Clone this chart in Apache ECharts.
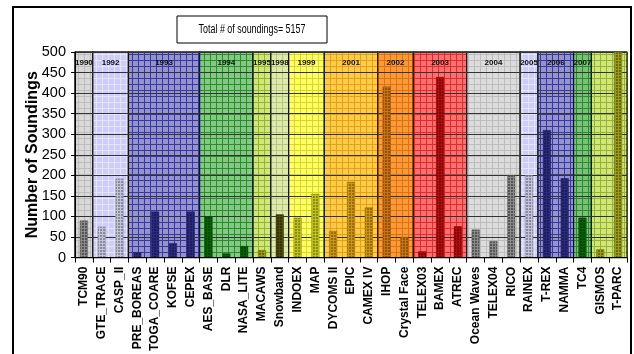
<!DOCTYPE html>
<html>
<head>
<meta charset="utf-8">
<script src="https://cdn.jsdelivr.net/npm/echarts@6/dist/echarts.min.js"></script>
<style>
  html, body { margin: 0; padding: 0; background: #fff; }
  #chart { width: 634px; height: 354px; }
</style>
</head>
<body>
<div id="chart"></div>
<script>
// Field campaigns and the number of soundings collected in each
const campaigns = ['TCM90', 'GTE_TRACE', 'CASP_II', 'PRE_BOREAS', 'TOGA_COARE', 'KOFSE', 'CEPEX',
  'AES_BASE', 'DLR', 'NASA_LITE', 'MACAWS', 'Snowband', 'INDOEX', 'MAP', 'DYCOMS II', 'EPIC',
  'CAMEX IV', 'IHOP', 'Crystal Face', 'TELEX03', 'BAMEX', 'ATREC', 'Ocean Waves', 'TELEX04',
  'RICO', 'RAINEX', 'T-REX', 'NAMMA', 'TC4', 'GISMOS', 'T-PARC'];
const soundings = [90, 75, 192, 13, 112, 35, 112, 100, 10, 28, 18, 105, 97, 155, 65, 184,
  122, 416, 50, 15, 439, 76, 68, 40, 200, 200, 310, 193, 97, 20, 1520];

// Year groups: how many consecutive campaigns fall in each year, and the band label
const yearCounts = [1, 2, 4, 3, 1, 1, 2, 3, 2, 3, 3, 1, 2, 1, 2];
const yearLabels = ['1990', '1992', '1993', '1994', '1995', '1998', '1999', '2001', '2002',
  '2003', '2004', '2005', '2006', '2007', ''];

// Band background [base, mesh line] and bar [cell, separator] colours per year group
const bandColors = [
  ['#d9d9d9', '#bdbdbd'], ['#ccccff', '#e4e4ff'], ['#9494cc', '#3a3a96'], ['#86c686', '#2e8a2e'],
  ['#cce977', '#9ab03a'], ['#dde9ae', '#b7c77a'], ['#ffff66', '#d8d430'], ['#ffcc44', '#e0a020'],
  ['#ff9933', '#d87418'], ['#ff7070', '#d83030'], ['#dcdcdc', '#bdbdbd'], ['#ccccff', '#e4e4ff'],
  ['#9494cc', '#3a3a96'], ['#7cbf7c', '#2e8a2e'], ['#cce977', '#9ab03a']];
const barColors = [
  ['#555555', '#8a8a8a'], ['#8a8a9e', '#c4c4d8'], ['#1c1c60', '#2a2a78'], ['#004a00', '#0a600a'],
  ['#6b6b00', '#9a9a20'], ['#333300', '#4c4c10'], ['#8f8f00', '#bdbd30'], ['#9c6c00', '#c89420'],
  ['#9a5000', '#c0741c'], ['#8a0000', '#a81010'], ['#555555', '#8a8a8a'], ['#8a8a9e', '#c4c4d8'],
  ['#1c1c60', '#2a2a78'], ['#004a00', '#0a600a'], ['#6b6b00', '#9a9a20']];

const totalText = 'Total # of soundings= 5157';

function meshPattern(base, line, size) {
  const c = document.createElement('canvas');
  c.width = size; c.height = size;
  const g = c.getContext('2d');
  g.fillStyle = base; g.fillRect(0, 0, size, size);
  g.fillStyle = line;
  g.fillRect(0, 0, size, 1);
  g.fillRect(0, 0, 1, size);
  return { image: c, repeat: 'repeat' };
}

// Map each campaign to its year group and build the band list
const groupOf = [];
const bands = [];
let start = 0;
yearCounts.forEach((n, gi) => {
  for (let k = 0; k < n; k++) groupOf.push(gi);
  const c = bandColors[gi];
  bands.push([
    { xAxis: campaigns[start], name: yearLabels[gi],
      itemStyle: { color: meshPattern(c[0], c[1], 6) } },
    { xAxis: campaigns[start + n - 1] }
  ]);
  start += n;
});

const barData = soundings.map((v, i) => {
  const c = barColors[groupOf[i]];
  return {
    value: v,
    itemStyle: { color: meshPattern(c[0], c[1], 3), borderColor: c[0], borderWidth: 0.5 }
  };
});

const sans = "'Liberation Sans', Arial, sans-serif";

const chart = echarts.init(document.getElementById('chart'));
chart.setOption({
  animation: false,
  backgroundColor: '#ffffff',
  grid: { left: 75, right: 7, top: 52, bottom: 95, show: true, borderColor: '#222', borderWidth: 1 },
  graphic: [
    { type: 'rect', shape: { x: 13, y: 7, width: 618, height: 400 },
      style: { fill: 'none', stroke: '#000', lineWidth: 2 }, z: 100 },
    { type: 'rect', shape: { x: 177, y: 16, width: 150, height: 27 },
      style: { fill: '#fff', stroke: '#000', lineWidth: 1 }, z: 100 },
    { type: 'text', x: 252, y: 29.5, z: 101, scaleX: 0.66, originX: 0, originY: 0,
      style: { text: totalText, font: '13.5px ' + sans, fill: '#000',
        align: 'center', verticalAlign: 'middle' } }
  ],
  xAxis: {
    type: 'category',
    data: campaigns,
    z: 3,
    axisLine: { lineStyle: { color: '#000', width: 1 } },
    axisTick: { show: true, length: 5, lineStyle: { color: '#000' } },
    axisLabel: { interval: 0, rotate: 90, margin: 9, color: '#000',
      fontFamily: sans, fontWeight: 'bold', fontSize: 12 },
    splitLine: { show: false }
  },
  yAxis: {
    type: 'value',
    min: 0, max: 500, interval: 50,
    z: 1.5,
    name: 'Number of Soundings',
    nameLocation: 'middle',
    nameGap: 34,
    nameMoveOverlap: false,
    nameTextStyle: { fontFamily: sans, fontWeight: 'bold', fontSize: 16, color: '#000' },
    axisLine: { show: true, lineStyle: { color: '#000', width: 1 } },
    axisTick: { show: true, length: 4, lineStyle: { color: '#000' } },
    axisLabel: { margin: 9, color: '#000', fontFamily: sans, fontSize: 14.5 },
    splitLine: { show: true, lineStyle: { color: '#333', width: 1 } }
  },
  series: [{
    type: 'bar',
    data: barData,
    barWidth: 8,
    z: 2,
    markArea: {
      silent: true,
      z: 1,
      itemStyle: { borderColor: '#111', borderWidth: 1.2 },
      label: { show: true, position: 'insideTop', distance: 7, color: '#111',
        fontFamily: sans, fontWeight: 'bold', fontSize: 8 },
      data: bands
    }
  }]
});
</script>
</body>
</html>
